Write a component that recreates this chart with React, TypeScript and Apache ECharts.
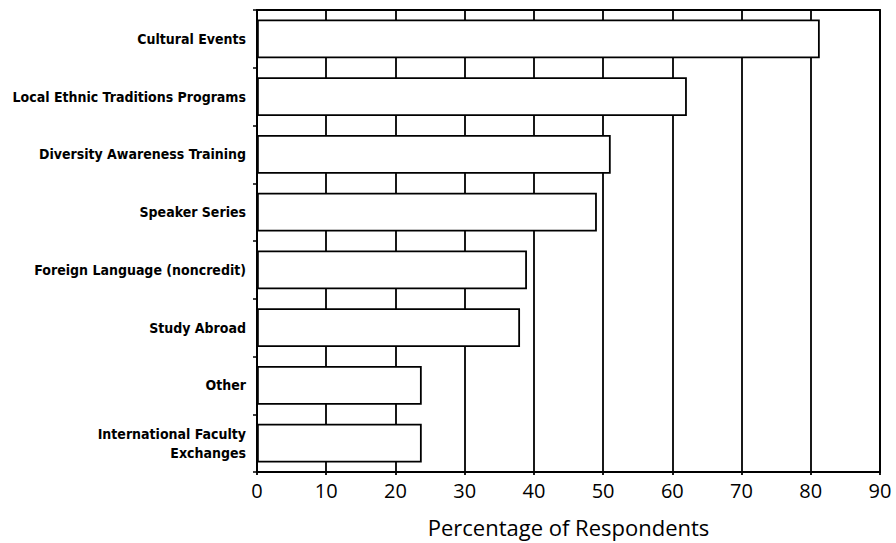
import React, { useEffect, useRef } from "react";
import * as echarts from "echarts";

const categories = [
  "Cultural Events",
  "Local Ethnic Traditions Programs",
  "Diversity Awareness Training",
  "Speaker Series",
  "Foreign Language (noncredit)",
  "Study Abroad",
  "Other",
  "International Faculty\nExchanges",
];
const values = [81.3, 62.1, 51.1, 49.1, 39.0, 38.0, 23.8, 23.8];
const xTicks = { min: 0, max: 90, interval: 10 };
const xTitle = "Percentage of Respondents";

export default function App() {
  const ref = useRef<HTMLDivElement>(null);
  useEffect(() => {
    if (!ref.current) return;
    const chart = echarts.init(ref.current, null, { renderer: "svg" });
    chart.setOption({
      animation: false,
      backgroundColor: "#fff",
      grid: {
        left: 257,
        right: 16,
        top: 10,
        bottom: 71,
        show: true,
        borderColor: "#000",
        borderWidth: 1.8,
        containLabel: false,
      },
      xAxis: {
        type: "value",
        min: xTicks.min,
        max: xTicks.max,
        interval: xTicks.interval,
        name: xTitle,
        nameLocation: "middle",
        nameGap: 44,
        nameTextStyle: {
          color: "#000",
          fontFamily: "Open Sans, Noto Sans, sans-serif",
          fontSize: 22,
        },
        axisLine: { show: true, lineStyle: { color: "#000", width: 1.8 } },
        axisTick: { show: true, length: 3, lineStyle: { color: "#000", width: 1.8 } },
        axisLabel: {
          color: "#000",
          fontFamily: "Open Sans, Noto Sans, sans-serif",
          fontSize: 20,
          margin: 8,
        },
        splitLine: { show: true, lineStyle: { color: "#000", width: 1.8 } },
      },
      yAxis: {
        type: "category",
        data: categories,
        inverse: true,
        axisLine: { show: true, lineStyle: { color: "#000", width: 1.8 } },
        axisTick: { show: true, length: 4, lineStyle: { color: "#000", width: 1.5 } },
        axisLabel: {
          color: "#000",
          fontFamily: "DejaVu Sans Condensed, Liberation Sans Narrow, sans-serif",
          fontWeight: "bold",
          fontSize: 14,
          lineHeight: 19,
          margin: 11,
          align: "right",
        },
        splitLine: { show: false },
      },
      series: [
        {
          type: "bar",
          data: values,
          barWidth: "67%",
          itemStyle: { color: "#fff", borderColor: "#000", borderWidth: 1.8 },
          z: 3,
        },
      ],
    });
    return () => chart.dispose();
  }, []);
  return (
    <div
      ref={ref}
      style={{ position: "fixed", left: 0, top: 0, width: 896, height: 543, overflow: "hidden" }}
    />
  );
}
